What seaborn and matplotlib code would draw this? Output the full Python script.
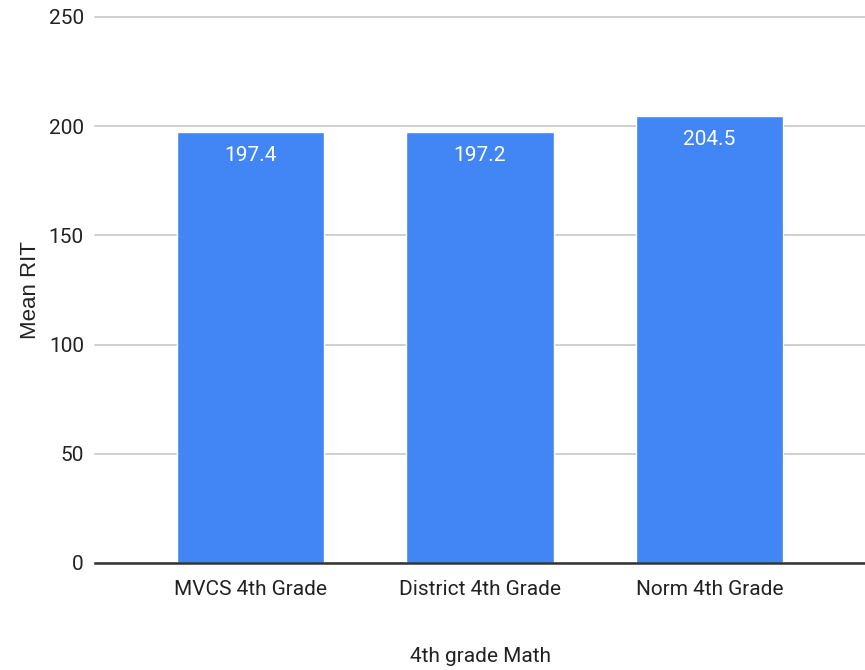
import matplotlib
matplotlib.use("Agg")
import matplotlib.pyplot as plt
import seaborn as sns
import pandas as pd

categories = ["MVCS 4th Grade", "District 4th Grade", "Norm 4th Grade"]
values = [197.4, 197.2, 204.5]
yticks = [0, 50, 100, 150, 200, 250]

sns.set_style("white")
plt.rcParams["font.family"] = ["Roboto", "DejaVu Sans"]

df = pd.DataFrame({"cat": categories, "val": values})

fig = plt.figure(figsize=(8.65, 6.7), dpi=100)
ax = fig.add_axes([95 / 865, 107 / 670, 770 / 865, 546 / 670])

sns.barplot(data=df, x="cat", y="val", color="#4285F4", saturation=1,
            width=0.643, ax=ax, zorder=3)

ax.set_xlim(-0.678, 2.678)
ax.set_ylim(0, 250)
ax.set_yticks(yticks)
ax.set_yticklabels([str(t) for t in yticks], fontsize=15, color="#222222")
ax.tick_params(axis="both", length=0)
ax.tick_params(axis="y", pad=8)
ax.tick_params(axis="x", pad=12, labelsize=15, labelcolor="#222222")

for s in ["top", "right", "left"]:
    ax.spines[s].set_visible(False)
ax.spines["bottom"].set_color("#333333")
ax.spines["bottom"].set_linewidth(1.8)
ax.spines["bottom"].set_zorder(4)

ax.yaxis.grid(True, color="#cccccc", linewidth=1.3, zorder=0)
for gl in ax.get_ygridlines():
    gl.set_clip_on(False)
ax.set_axisbelow(True)

for i, v in enumerate(values):
    ax.annotate(f"{v}", (i, v), xytext=(0, -17), textcoords="offset points",
                ha="center", va="center", color="white", fontsize=15)

ax.set_xlabel("4th grade Math", fontsize=15, color="#222222")
ax.set_ylabel("Mean RIT", fontsize=16, color="#222222",
              family=["Liberation Sans", "DejaVu Sans"])
ax.xaxis.set_label_coords(0.5, (563 - 657) / 546)
ax.yaxis.set_label_coords((30 - 95) / 770, 0.5)
ax.xaxis.label.set_va("center")
ax.yaxis.label.set_va("center")

fig.savefig("out.png", dpi=100)
